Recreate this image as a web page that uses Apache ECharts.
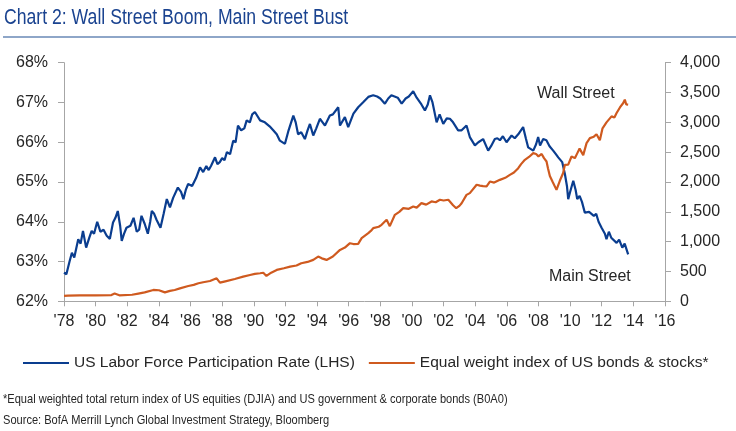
<!DOCTYPE html>
<html>
<head>
<meta charset="utf-8">
<script src="https://cdn.jsdelivr.net/npm/echarts@6/dist/echarts.min.js"></script>
<style>
html,body{margin:0;padding:0;background:#fff;}
#chart{width:736px;height:431px;}
</style>
</head>
<body>
<div id="chart"></div>
<script>
const titleText = 'Chart 2: Wall Street Boom, Main Street Bust';
const seriesNames = ['US Labor Force Participation Rate (LHS)', 'Equal weight index of US bonds & stocks*'];
const footnotes = ['*Equal weighted total return index of US equities (DJIA) and US government & corporate bonds (B0A0)',
                   'Source: BofA Merrill Lynch Global Investment Strategy, Bloomberg'];
const annotations = ['Wall Street', 'Main Street'];

const lfprYears = [1978.0,1978.15,1978.35,1978.5,1978.65,1978.9,1979.05,1979.2,1979.4,1979.6,1979.75,1979.9,
1980.1,1980.3,1980.5,1980.7,1980.9,1981.1,1981.25,1981.4,1981.55,1981.65,1981.8,1981.95,
1982.2,1982.4,1982.6,1982.75,1982.9,1983.1,1983.3,1983.45,1983.55,1983.7,1983.85,
1984.1,1984.3,1984.5,1984.7,1984.9,1985.2,1985.4,1985.55,1985.7,1985.85,
1986.1,1986.35,1986.6,1986.8,1987.0,1987.15,1987.3,1987.55,1987.7,1987.85,
1988.0,1988.15,1988.3,1988.5,1988.7,1988.85,1989.0,1989.2,1989.4,1989.55,1989.75,1989.9,
1990.07,1990.4,1990.7,1991.0,1991.23,1991.45,1991.65,1991.97,1992.2,1992.5,1992.65,1992.8,
1993.0,1993.23,1993.4,1993.55,1993.76,1993.95,1994.18,1994.35,1994.5,1994.81,1995.0,1995.34,1995.45,
1995.76,1995.97,1996.3,1996.6,1996.9,1997.24,1997.55,1997.8,1998.0,1998.29,1998.5,1998.7,1998.9,
1999.1,1999.35,1999.6,1999.8,2000.08,2000.3,2000.6,2000.82,2001.0,2001.14,2001.3,2001.56,2001.75,2001.98,
2002.2,2002.4,2002.6,2002.92,2003.14,2003.45,2003.66,2003.98,2004.2,2004.5,2004.82,
2005.0,2005.24,2005.4,2005.56,2005.75,2005.98,2006.3,2006.5,2006.72,2007.03,2007.2,2007.35,2007.67,2007.85,2007.98,
2008.1,2008.3,2008.5,2008.7,2008.93,2009.1,2009.25,2009.5,2009.67,2009.8,2009.88,
2010.0,2010.2,2010.35,2010.45,2010.6,2010.75,2010.93,2011.2,2011.5,2011.65,2011.8,2011.99,
2012.2,2012.3,2012.45,2012.6,2012.94,2013.1,2013.3,2013.45,2013.67];
const lfprRates = [62.72,62.68,63.0,63.22,63.1,63.56,63.45,63.77,63.35,63.6,63.77,63.7,
64.0,63.75,63.8,63.65,63.57,63.98,64.1,64.27,63.9,63.52,63.7,63.85,
63.9,64.1,63.75,63.8,64.15,63.95,63.7,64.0,64.27,64.2,64.05,
63.85,64.2,64.57,64.36,64.6,64.86,64.75,64.57,64.8,64.95,
64.9,65.1,65.37,65.25,65.4,65.3,65.41,65.62,65.45,65.5,
65.6,65.55,65.75,65.7,66.04,66.0,66.42,66.3,66.35,66.55,66.5,66.7,
66.76,66.55,66.5,66.4,66.3,66.2,66.04,65.96,66.3,66.67,66.5,66.2,
66.25,66.08,66.3,66.46,66.17,66.35,66.59,66.5,66.42,66.67,66.7,66.88,66.42,
66.63,66.38,66.72,66.88,67.0,67.14,67.18,67.15,67.1,66.97,67.1,67.18,67.15,
67.12,66.97,67.1,67.15,67.28,67.12,66.95,66.8,66.95,67.18,67.0,66.5,66.7,66.46,
66.6,66.59,66.5,66.3,66.3,66.42,66.13,65.92,66.0,66.08,65.79,
65.9,66.08,66.1,66.05,66.15,66.0,66.17,66.1,66.2,66.38,66.1,65.87,65.79,65.95,66.13,
65.92,66.08,66.05,65.9,65.79,65.7,65.62,65.5,65.2,64.9,64.57,
64.75,65.03,64.8,64.57,64.65,64.5,64.23,64.25,64.15,64.2,64.0,63.85,
63.7,63.56,63.75,63.6,63.47,63.55,63.35,63.45,63.18];

const indexYears = [1978.0,1978.1,1978.25,1979.0,1980.0,1981.0,1981.2,1981.5,1982.3,1982.7,1983.1,1983.65,1984.0,1984.38,1984.7,
1985.0,1985.33,1985.86,1986.2,1986.5,1986.8,1987.23,1987.65,1987.86,1988.2,1988.8,1989.33,1989.76,
1990.07,1990.4,1990.6,1990.8,1991.1,1991.45,1991.9,1992.3,1992.7,1993.0,1993.4,1993.76,1994.07,1994.3,1994.6,
1995.0,1995.45,1995.76,1996.08,1996.3,1996.6,1996.82,1997.24,1997.4,1997.55,1997.9,1998.08,1998.4,1998.6,1998.92,
1999.2,1999.45,1999.8,2000.08,2000.3,2000.6,2000.9,2001.24,2001.5,2001.77,2002.0,2002.3,2002.6,2002.8,
2003.0,2003.14,2003.45,2003.66,2004.09,2004.3,2004.5,2004.72,2004.93,2005.2,2005.56,2005.9,2006.19,2006.45,2006.72,2006.9,
2007.14,2007.4,2007.67,2007.85,2008.0,2008.2,2008.35,2008.51,2008.6,2008.72,2008.9,2009.14,2009.35,2009.56,2009.67,2009.88,
2010.09,2010.3,2010.45,2010.6,2010.83,2011.04,2011.25,2011.5,2011.67,2011.88,2012.05,2012.3,2012.62,2012.8,2012.94,
2013.15,2013.36,2013.46,2013.55,2013.67];
const indexValues = [90,75,95,100,100,105,130,100,110,130,150,190,185,150,175,
190,217,257,275,302,320,340,385,312,335,374,413,441,
460,470,478,425,480,526,555,582,600,638,660,694,750,720,694,
750,862,900,974,960,962,1058,1142,1180,1226,1250,1282,1366,1260,1450,
1500,1562,1550,1590,1570,1646,1620,1674,1660,1702,1690,1702,1610,1560,
1600,1644,1784,1814,1954,1940,1930,1926,2008,1990,2036,2070,2120,2160,2232,2300,
2372,2420,2484,2470,2430,2470,2400,2344,2232,2100,2000,1868,2020,2150,2288,2290,
2428,2400,2480,2560,2450,2652,2736,2760,2800,2700,2900,3000,3100,3080,3156,
3250,3324,3380,3300,3296];

const BLUE = '#0a3d8f', ORANGE = '#cf5a1f', AXIS = '#a6a6a6', TXT = '#262626';

// narrow font detection; fall back to horizontally compressed Liberation Sans
function hasFont(name) {
  const c = document.createElement('canvas').getContext('2d');
  const s = 'Equal weighted total return index WMmli 0123';
  c.font = '40px monospace'; const a = c.measureText(s).width;
  c.font = '40px "' + name + '", monospace'; const b = c.measureText(s).width;
  return Math.abs(a - b) > 0.5;
}
const NARROW_OK = hasFont('Liberation Sans Narrow');
const NARROW = NARROW_OK ? '"Liberation Sans Narrow", sans-serif' : '"Liberation Sans", Arial, sans-serif';
const NSCALE = NARROW_OK ? 1 : 0.82;

const chart = echarts.init(document.getElementById('chart'), null, {renderer: 'canvas'});
const lfprData = lfprYears.map((y, i) => [y, lfprRates[i]]);
const indexData = indexYears.map((y, i) => [y, indexValues[i]]);

chart.setOption({
  animation: false,
  backgroundColor: '#fff',
  textStyle: {fontFamily: '"Liberation Sans", Arial, sans-serif'},
  grid: {left: 64, right: 71, top: 62.7, bottom: 129.7, containLabel: false},
  xAxis: {
    type: 'value', min: 1978, max: 2016, interval: 2,
    axisLine: {show: true, lineStyle: {color: AXIS, width: 1}},
    axisTick: {show: true, length: 5, lineStyle: {color: AXIS}},
    splitLine: {show: false},
    axisLabel: {color: TXT, fontSize: 16, margin: 12,
      formatter: v => "'" + String(v).slice(2)}
  },
  yAxis: [{
    type: 'value', min: 62, max: 68, interval: 1, position: 'left',
    axisLine: {show: true, lineStyle: {color: AXIS}},
    axisTick: {show: true, length: 6, lineStyle: {color: AXIS}},
    splitLine: {show: false},
    axisLabel: {color: TXT, fontSize: 16, margin: 16, formatter: '{value}%'}
  }, {
    type: 'value', min: 0, max: 4000, interval: 500, position: 'right',
    axisLine: {show: true, lineStyle: {color: AXIS}},
    axisTick: {show: true, length: 6, lineStyle: {color: AXIS}},
    splitLine: {show: false},
    axisLabel: {color: TXT, fontSize: 16, margin: 15,
      formatter: v => v.toLocaleString('en-US')}
  }],
  legend: {
    left: 18, top: 350, itemGap: 14, itemWidth: 46, itemHeight: 2,
    icon: 'rect',
    textStyle: {color: TXT, fontSize: 15.5},
    data: seriesNames
  },
  graphic: [
    {type: 'text', x: 4, y: 7, scaleX: NSCALE, style: {text: titleText, fill: '#1a4390', fontSize: 21.5, fontFamily: NARROW}},
    {type: 'rect', shape: {x: 3, y: 36, width: 733, height: 2}, style: {fill: '#8ea6c8'}},
    {type: 'text', x: 3, y: 392, scaleX: NSCALE, style: {text: footnotes[0], fill: TXT, fontSize: 13.5, fontFamily: NARROW}},
    {type: 'text', x: 3, y: 413, scaleX: NSCALE, style: {text: footnotes[1], fill: TXT, fontSize: 13.5, fontFamily: NARROW}}
  ],
  series: [{
    name: seriesNames[0], type: 'line', yAxisIndex: 0, data: lfprData,
    showSymbol: false, symbol: 'none', lineStyle: {color: BLUE, width: 2.2}, itemStyle: {color: BLUE},
    markPoint: {symbol: 'circle', symbolSize: 0, silent: true,
      data: [{coord: [2011.25, 62.62], value: annotations[1]}],
      label: {show: true, position: 'inside', formatter: annotations[1], color: TXT, fontSize: 16}}
  }, {
    name: seriesNames[1], type: 'line', yAxisIndex: 1, data: indexData,
    showSymbol: false, symbol: 'none', lineStyle: {color: ORANGE, width: 2.2}, itemStyle: {color: ORANGE},
    markPoint: {symbol: 'circle', symbolSize: 0, silent: true,
      data: [{coord: [2010.36, 3480], value: annotations[0]}],
      label: {show: true, position: 'inside', formatter: annotations[0], color: TXT, fontSize: 16}}
  }]
});
</script>
</body>
</html>
